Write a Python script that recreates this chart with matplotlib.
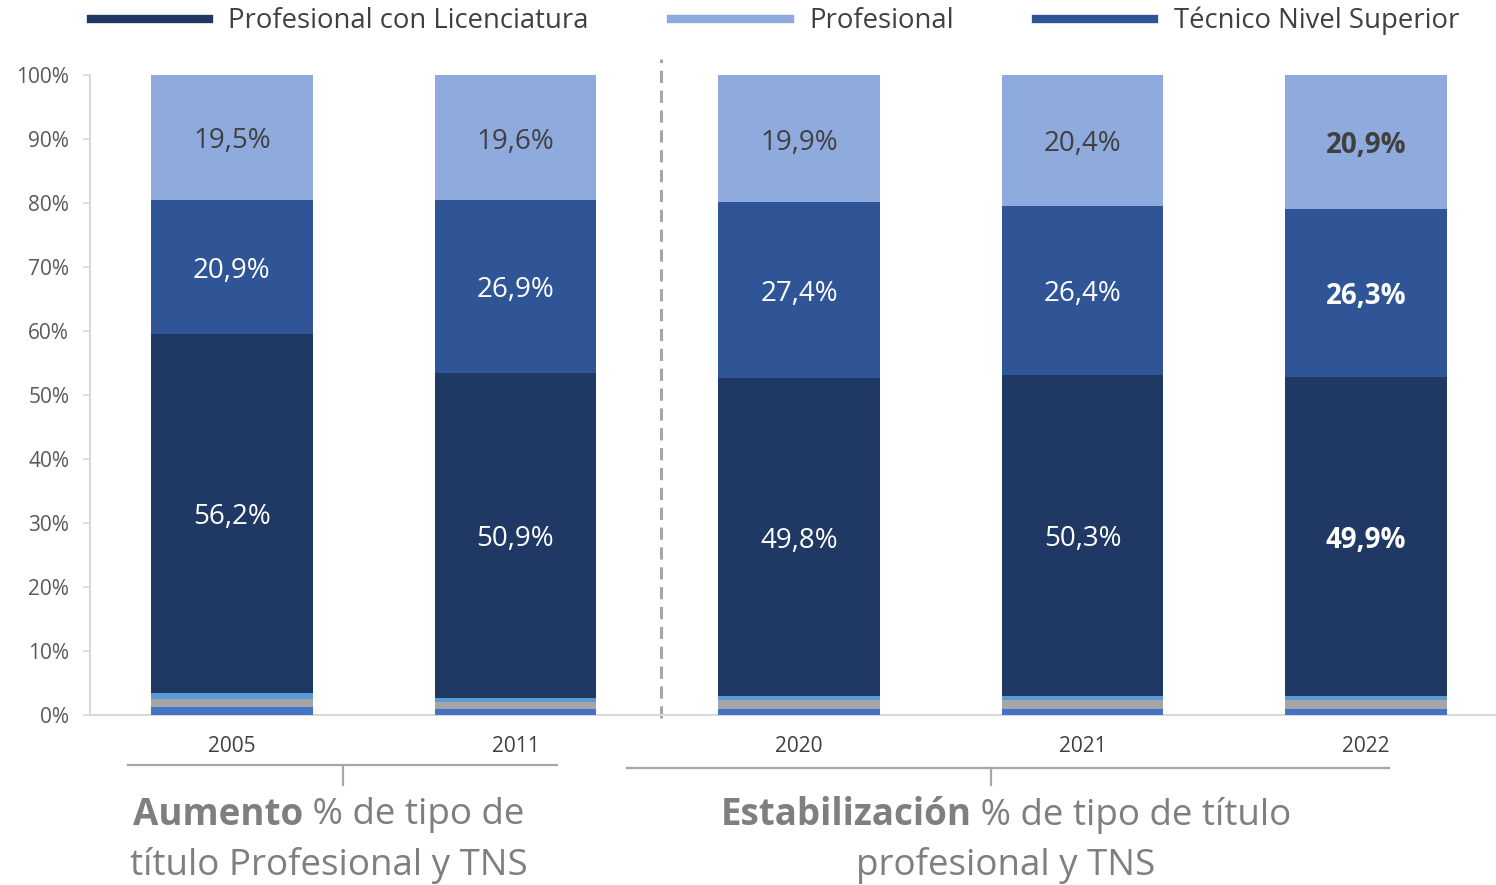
import matplotlib

matplotlib.use("Agg")
import matplotlib.pyplot as plt
from matplotlib.lines import Line2D

plt.rcParams["font.family"] = ["Open Sans", "DejaVu Sans"]

YEARS = ["2005", "2011", "2020", "2021", "2022"]
# small bottom segments (unlabelled in the source)
OTROS_A = [1.3, 0.9, 1.0, 1.0, 1.0]
OTROS_B = [1.2, 1.2, 1.3, 1.4, 1.4]
OTROS_C = [0.9, 0.5, 0.6, 0.5, 0.5]
LICENCIATURA = [56.2, 50.9, 49.8, 50.3, 49.9]
TNS = [20.9, 26.9, 27.4, 26.4, 26.3]
PROFESIONAL = [19.5, 19.6, 19.9, 20.4, 20.9]

C_LIC = "#203864"
C_TNS = "#2F5597"
C_PROF = "#8FAADC"
GRAY_TXT = "#7F7F7F"
AXIS_GRAY = "#D9D9D9"

W, H = 1496, 885
fig = plt.figure(figsize=(W / 100, H / 100), dpi=100)
# axes: x from 90px to 1508px (cut by the image edge), y from 715px to 75px
ax = fig.add_axes([90 / W, (H - 715) / H, (1508 - 90) / W, 640 / H])

x = list(range(len(YEARS)))
bw = 0.57
bottom = [0.0] * len(YEARS)
segs = [
    (OTROS_A, "#4472C4", None),
    (OTROS_B, "#A5A5A5", None),
    (OTROS_C, "#5B9BD5", None),
    (LICENCIATURA, C_LIC, "white"),
    (TNS, C_TNS, "white"),
    (PROFESIONAL, C_PROF, "#404040"),
]
for vals, col, txtcol in segs:
    ax.bar(x, vals, bw, bottom=bottom, color=col, edgecolor="none", zorder=3)
    if txtcol is not None:
        for i, (b, v) in enumerate(zip(bottom, vals)):
            ax.text(i, b + v / 2 - 0.6, f"{v:.1f}%".replace(".", ","), ha="center", va="center",
                    color=txtcol, fontsize=20, zorder=4,
                    fontweight="bold" if YEARS[i] == "2022" else "normal")
    bottom = [b + v for b, v in zip(bottom, vals)]

ax.set_xlim(-0.5, 4.5)
ax.set_ylim(0, 100)
ax.set_yticks(range(0, 101, 10))
ax.set_yticklabels([f"{t}%" for t in range(0, 101, 10)])
ax.set_xticks(x)
ax.set_xticklabels(YEARS)
ax.tick_params(axis="y", length=5, width=1.2, color=AXIS_GRAY, pad=10, labelsize=15,
               labelcolor="#595959")
ax.tick_params(axis="x", length=0, pad=15, labelsize=15, labelcolor="#404040")
for s in ["top", "right"]:
    ax.spines[s].set_visible(False)
for s in ["left", "bottom"]:
    ax.spines[s].set_color(AXIS_GRAY)
    ax.spines[s].set_linewidth(1.5)
    ax.spines[s].set_zorder(2)

# dashed separator between 2011 and 2020
ax.plot([1.514, 1.514], [-0.5, 102.5], color="#A6A6A6", ls=(0, (4, 2.5)), lw=2.2, clip_on=False)

# legend
handles = [Line2D([], [], color=C_LIC, lw=6),
           Line2D([], [], color=C_PROF, lw=6),
           Line2D([], [], color=C_TNS, lw=6)]
fig.legend(handles, ["Profesional con Licenciatura", "Profesional", "Técnico Nivel Superior"],
           loc="center", bbox_to_anchor=(0.518, 1 - 21 / H), ncol=3, frameon=False,
           handlelength=4.3, handletextpad=0.7, columnspacing=3.0, fontsize=19.8,
           labelcolor="#404040")

# brackets below the axis
def fx(px):
    return px / W


def fy(py):
    return 1 - py / H


for x0, x1, xm, yb in [(128, 557, 343, 765), (627, 1389, 991, 768)]:
    fig.add_artist(Line2D([fx(x0), fx(x1)], [fy(yb), fy(yb)], color="#A6A6A6", lw=1.6))
    fig.add_artist(Line2D([fx(xm), fx(xm)], [fy(yb), fy(785)], color="#A6A6A6", lw=1.6))

fig.canvas.draw()
rend = fig.canvas.get_renderer()


def rich_line(xc, yc, parts, size=26.5):
    texts = []
    for s, wgt in parts:
        t = fig.text(0, fy(yc), s, fontsize=size, fontweight=wgt, color=GRAY_TXT,
                     ha="left", va="center")
        texts.append(t)
    widths = [t.get_window_extent(rend).width for t in texts]
    left = xc - sum(widths) / 2
    for t, w in zip(texts, widths):
        t.set_x(fx(left))
        left += w


rich_line(329, 815, [("Aumento", "bold"), (" % de tipo de", "normal")])
rich_line(329, 865, [("título Profesional y TNS", "normal")])
rich_line(1006, 815, [("Estabilización", "bold"), (" % de tipo de título", "normal")])
rich_line(1006, 865, [("profesional y TNS", "normal")])

fig.savefig("out.png", dpi=100)
